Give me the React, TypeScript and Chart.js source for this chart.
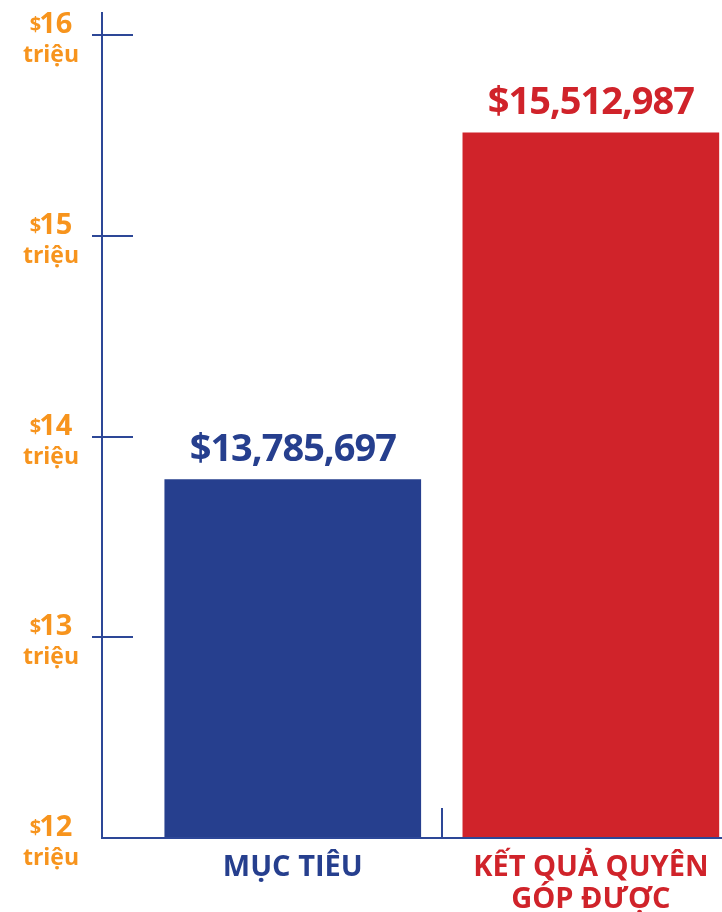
import { useEffect, useRef } from "react";
import { Chart, registerables } from "chart.js";

Chart.register(...registerables);

// ---- data ----
const categories: string[][] = [["MỤC TIÊU"], ["KẾT QUẢ QUYÊN", "GÓP ĐƯỢC"]];
const amounts: number[] = [13785697, 15512987];
const tickValues: number[] = [12000000, 13000000, 14000000, 15000000, 16000000];
const tickNumbers: string[] = ["12", "13", "14", "15", "16"];
const tickUnit = "triệu";
const currencySymbol = "$";

// ---- styles ----
const barColors = ["#263f8e", "#d0232a"];
const axisColor = "#2d4797";
const tickColor = "#f7941d";
const FONT = '"Open Sans", "Noto Sans", sans-serif';

const overlay = {
  id: "overlay",
  afterDatasetsDraw(chart: any) {
    const ctx: CanvasRenderingContext2D = chart.ctx;
    const { left, right, top, bottom } = chart.chartArea;
    const xs = chart.scales.x;
    const ys = chart.scales.y;
    ctx.save();

    // axes
    ctx.strokeStyle = axisColor;
    ctx.lineWidth = 2;
    ctx.beginPath();
    ctx.moveTo(left, top - 23);
    ctx.lineTo(left, bottom + 1);
    ctx.stroke();
    ctx.beginPath();
    ctx.moveTo(left - 1, bottom);
    ctx.lineTo(right, bottom);
    ctx.stroke();

    // category separator
    const sx = Math.round(xs.getPixelForValue(0.5));
    ctx.beginPath();
    ctx.moveTo(sx, bottom - 30);
    ctx.lineTo(sx, bottom);
    ctx.stroke();

    // y ticks + labels
    tickValues.forEach((v, i) => {
      const y = Math.round(ys.getPixelForValue(v));
      if (i > 0) {
        ctx.strokeStyle = axisColor;
        ctx.lineWidth = 2;
        ctx.beginPath();
        ctx.moveTo(left - 10, y);
        ctx.lineTo(left + 31, y);
        ctx.stroke();
      }
      const cx = left - 51;
      ctx.fillStyle = tickColor;
      ctx.textBaseline = "alphabetic";
      ctx.textAlign = "left";
      ctx.font = `bold 20px ${FONT}`;
      const wSym = ctx.measureText(currencySymbol).width - 2;
      ctx.font = `bold 29px ${FONT}`;
      const wNum = ctx.measureText(tickNumbers[i]).width;
      const start = cx - (wSym + wNum) / 2;
      ctx.font = `bold 20px ${FONT}`;
      ctx.fillText(currencySymbol, start, y - 4);
      ctx.font = `bold 29px ${FONT}`;
      ctx.fillText(tickNumbers[i], start + wSym, y - 2);
      ctx.font = `bold 23px ${FONT}`;
      ctx.textAlign = "center";
      ctx.fillText(tickUnit, cx, y + 27);
    });

    // value labels + category labels
    const meta = chart.getDatasetMeta(0);
    meta.data.forEach((bar: any, i: number) => {
      ctx.fillStyle = barColors[i];
      ctx.textAlign = "center";
      ctx.textBaseline = "alphabetic";
      ctx.font = `bold 38px ${FONT}`;
      (ctx as any).letterSpacing = "-1px";
      ctx.fillText(currencySymbol + amounts[i].toLocaleString("en-US"), bar.x, bar.y - 19);
      (ctx as any).letterSpacing = "0px";
      ctx.font = `bold 29px ${FONT}`;
      categories[i].forEach((line, j) => {
        ctx.fillText(line, bar.x, bottom + 38 + j * 32);
      });
    });

    ctx.restore();
  },
};

export default function App() {
  const ref = useRef<HTMLCanvasElement>(null);
  useEffect(() => {
    document.body.style.margin = "0";
    document.body.style.overflow = "hidden";
    const chart = new Chart(ref.current!, {
      type: "bar",
      data: {
        datasets: [
          {
            data: amounts.map((v, i) => ({ x: i, y: v })),
            backgroundColor: barColors,
            borderWidth: 0,
            barThickness: 256,
          },
        ],
      },
      options: {
        animation: false,
        responsive: false,
        devicePixelRatio: 1,
        layout: { padding: { left: 102, right: 0, top: 35, bottom: 74 } },
        plugins: { legend: { display: false }, tooltip: { enabled: false } },
        scales: {
          x: { type: "linear", min: -0.64, max: 1.44, offset: false, display: false },
          y: { min: 12000000, max: 16000000, display: false },
        },
      },
      plugins: [overlay],
    } as any);
    let alive = true;
    (document as any).fonts?.load?.(`bold 29px "Open Sans"`).then(() => {
      if (alive) chart.draw();
    });
    return () => {
      alive = false;
      chart.destroy();
    };
  }, []);
  return (
    <canvas
      ref={ref}
      width={722}
      height={912}
      style={{ display: "block", width: 722, height: 912 }}
    />
  );
}
